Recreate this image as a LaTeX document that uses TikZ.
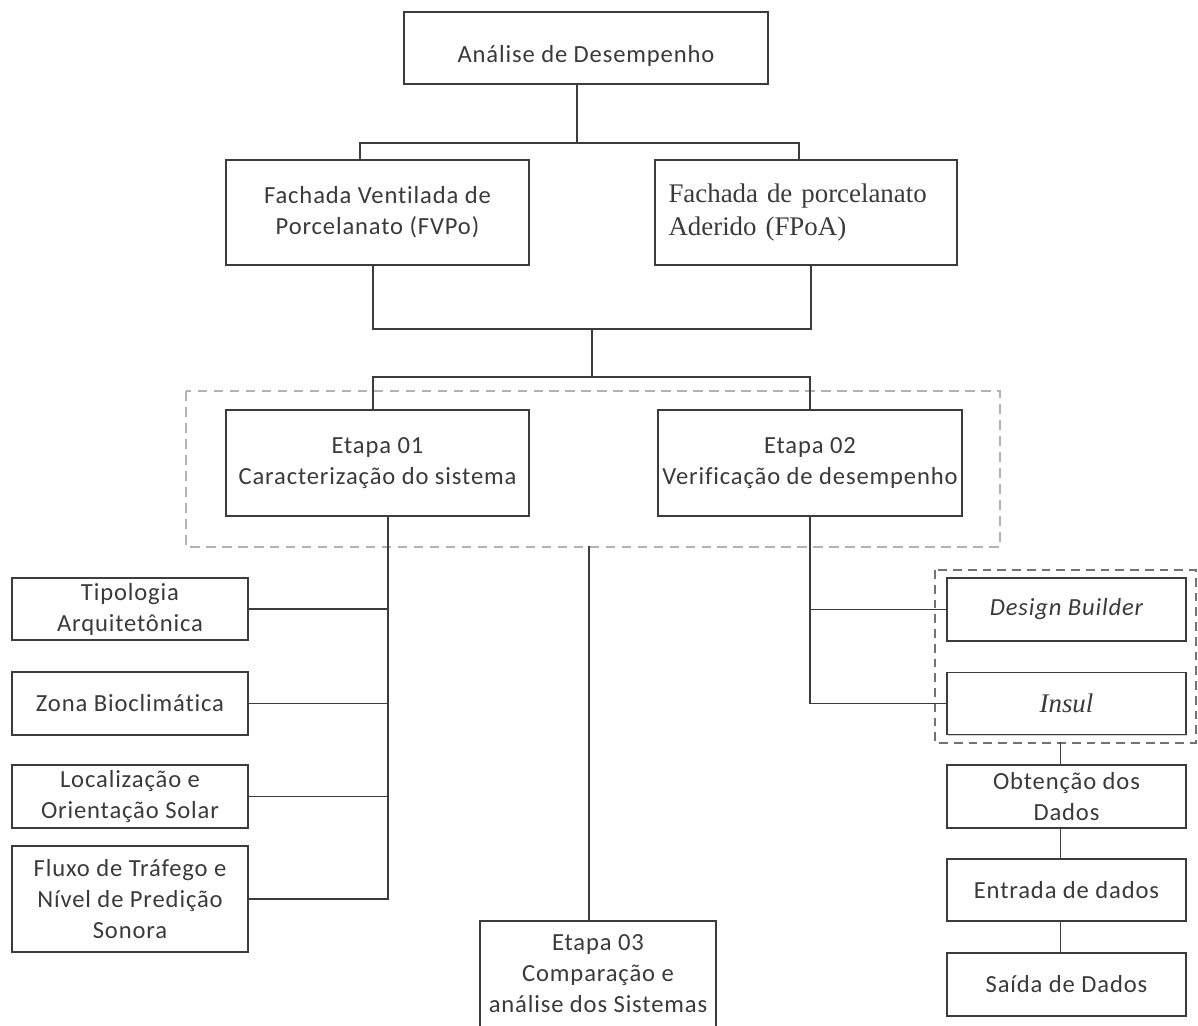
\documentclass[tikz,border=0pt]{standalone}
\usepackage{fontspec}
\setmainfont{Carlito}[LetterSpace=3.5, Ligatures={NoCommon}]
\newfontfamily\tmsfont{Liberation Serif}
\usetikzlibrary{positioning,calc,shadows}
\definecolor{lnc}{HTML}{3C3C3C}
\definecolor{txc}{HTML}{3A3A3A}
\tikzset{
	blk/.style 2 args={draw=lnc, line width=1.1pt, fill=white, text=txc, align=center, inner sep=0pt,
		minimum width=#1*0.02cm, minimum height=#2*0.02cm,
		font=\fontsize{14}{17.6}\selectfont,
		drop shadow={shadow xshift=0.7pt, shadow yshift=-0.7pt, opacity=0.18, fill=black}},
	link/.style={draw=lnc, line width=0.9pt},
	grpa/.style={draw=black!30, line width=1.3pt, dash pattern=on 5.5pt off 3.6pt},
	grpb/.style={draw=black!55, line width=0.8pt, dash pattern=on 5pt off 3.4pt},
}
\begin{document}
\begin{tikzpicture}[x=0.02cm, y=-0.02cm]
	\useasboundingbox (0,0) rectangle (1198,1026);
	\draw [grpa] (186,391) rectangle (1000,547);
	\draw [grpb] (935,570) rectangle (1196,743);
	\node [blk={364}{72}] (top) at (586,48) {\raisebox{-4.5pt}[10pt][3pt]{Análise de Desempenho}};
	\node [blk={303}{105}] (fvpo) at (377.5,212.5) {Fachada Ventilada de\\Porcelanato (FVPo)};
	\node [blk={302}{105}, align=left, font=\tmsfont\fontsize{15.3}{18.5}\selectfont, text width=5.5cm] (fpoa) at (806,212.5) {Fachada de porcelanato\\Aderido (FPoA)\\[0.5cm]};
	\node [blk={303}{106}] (e1) at (377.5,463) {Etapa 01\\Caracterização do sistema};
	\node [blk={304}{106}] (e2) at (810,463) {Etapa 02\\Verificação de desempenho};
	\node [blk={236}{62}] (tip) at (130,609) {Tipologia\\Arquitetônica};
	\node [blk={236}{63}] (zona) at (130,703.5) {Zona Bioclimática};
	\node [blk={236}{63}] (loc) at (130,796.5) {Localização e\\Orientação Solar};
	\node [blk={236}{106}] (flux) at (130,899) {Fluxo de Tráfego e\\Nível de Predição\\Sonora};
	\node [blk={236}{106}] (e3) at (598,974) {Etapa 03\\Comparação e\\análise dos Sistemas};
	\node [blk={239}{63}] (db) at (1066.5,609.5) {\itshape Design Builder};
	\node [blk={239}{62}] (ins) at (1066.5,703.5) {\tmsfont\itshape\fontsize{15.3}{18}\selectfont Insul};
	\node [blk={239}{63}] (obt) at (1066.5,796.5) {Obtenção dos\\Dados};
	\node [blk={239}{62}] (ent) at (1066.5,890) {Entrada de dados};
	\node [blk={239}{63}] (sai) at (1066.5,984.5) {Saída de Dados};
	\coordinate (j2) at (592,329);
	\coordinate (j3) at (592,377);
	\coordinate (b1) at ([xshift=0.21cm]e1.south);
	\coordinate (b2) at ([xshift=-0.12cm]obt.north);
	\draw [link] ([xshift=-0.18cm]top.south) -- ++(0,58) coordinate (j1);
	\draw [link] ([xshift=-0.35cm]fvpo.north) |- (j1) -| ([xshift=-0.14cm]fpoa.north);
	\draw [link] ([xshift=-0.09cm]fvpo.south) |- (j2) -| ([xshift=0.1cm]fpoa.south);
	\draw [link] (j2) -- (j3);
	\draw [link] ([xshift=-0.09cm]e1.north) |- (j3) -| (e2.north);
	\draw [link] (b1) |- (flux.east);
	\foreach \n in {tip,zona,loc}
		\draw [link] (\n.east) -- (\n.east -| b1);
	\draw [link] ([xshift=-0.18cm]e3.north) -- ++(0,-374);
	\draw [link] (e2.south) |- (ins.west);
	\draw [link] (db.west) -- (db.west -| e2.south);
	\draw [link] (b2) -- ++(0,-22);
	\draw [link] (b2 |- obt.south) -- (b2 |- ent.north);
	\draw [link] (b2 |- ent.south) -- (b2 |- sai.north);
\end{tikzpicture}
\end{document}
